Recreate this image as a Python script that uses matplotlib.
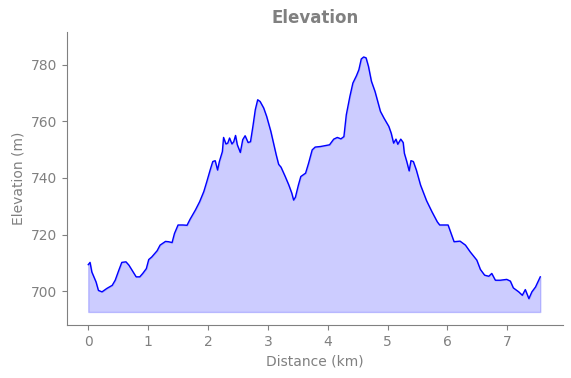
import matplotlib
matplotlib.use("Agg")
import matplotlib.pyplot as plt
import numpy as np

distance_km = [0.00, 0.03, 0.06, 0.13, 0.17, 0.23, 0.31, 0.40, 0.45, 0.51, 0.56, 0.63, 0.68, 0.75,
               0.80, 0.86, 0.91, 0.97, 1.01, 1.06, 1.15, 1.20, 1.29, 1.34, 1.40, 1.44, 1.50, 1.58,
               1.65, 1.70, 1.79, 1.86, 1.93, 1.98, 2.04, 2.08, 2.12, 2.16, 2.19, 2.24, 2.26, 2.30,
               2.33, 2.36, 2.40, 2.43, 2.46, 2.49, 2.54, 2.58, 2.62, 2.67, 2.71, 2.75, 2.79, 2.83,
               2.87, 2.93, 2.98, 3.05, 3.10, 3.14, 3.18, 3.22, 3.29, 3.35, 3.40, 3.43, 3.46, 3.51,
               3.55, 3.63, 3.68, 3.74, 3.79, 3.88, 3.93, 4.03, 4.10, 4.16, 4.22, 4.27, 4.31, 4.37,
               4.42, 4.48, 4.52, 4.56, 4.60, 4.64, 4.68, 4.73, 4.79, 4.88, 4.94, 5.02, 5.06, 5.10,
               5.14, 5.17, 5.22, 5.26, 5.28, 5.32, 5.36, 5.39, 5.43, 5.48, 5.55, 5.65, 5.74, 5.83,
               5.87, 6.01, 6.06, 6.11, 6.21, 6.30, 6.38, 6.49, 6.55, 6.62, 6.69, 6.74, 6.80, 6.88,
               6.99, 7.05, 7.10, 7.19, 7.25, 7.30, 7.36, 7.41, 7.47, 7.55]
elevation_m = [709.4, 710.2, 706.8, 703.3, 700.3, 699.8, 701.0, 702.1, 703.9, 707.4, 710.2, 710.4, 709.2, 706.8,
               705.1, 705.1, 706.3, 708.0, 711.2, 712.1, 714.3, 716.3, 717.6, 717.5, 717.2, 720.4, 723.4, 723.4,
               723.3, 725.4, 728.7, 731.6, 735.2, 738.7, 743.1, 745.8, 746.1, 742.8, 745.8, 749.3, 754.3, 752.0,
               752.3, 754.1, 752.0, 752.8, 755.0, 751.7, 749.0, 753.5, 754.9, 752.5, 752.8, 758.2, 764.1, 767.6,
               767.0, 764.7, 761.7, 756.4, 751.7, 748.1, 744.8, 743.8, 740.5, 737.5, 734.6, 732.2, 733.2, 737.5,
               740.5, 741.7, 745.2, 749.9, 750.9, 751.1, 751.3, 751.7, 753.7, 754.3, 753.8, 754.6, 762.3, 768.8,
               773.5, 776.1, 778.2, 782.0, 782.7, 782.4, 779.4, 774.1, 770.5, 763.5, 761.1, 758.2, 755.8, 752.3,
               753.7, 751.9, 753.7, 752.5, 748.7, 745.8, 742.5, 746.1, 745.8, 742.8, 737.5, 732.0, 728.1, 724.5,
               723.4, 723.4, 720.4, 717.5, 717.7, 716.3, 713.9, 711.0, 707.7, 705.7, 705.3, 706.3, 703.9, 703.9,
               704.2, 703.6, 701.2, 699.8, 698.6, 700.6, 697.4, 699.8, 701.5, 705.1]

title = "Elevation"
xlabel = "Distance (km)"
ylabel = "Elevation (m)"

fig = plt.figure(figsize=(5.71, 3.78), dpi=100)
ax = fig.add_axes([0.1168, 0.1402, 0.8687, 0.7743])

x = np.array(distance_km)
y = np.array(elevation_m)
base = y.min() - 4.7
ax.plot(x, y, color="blue", linewidth=1.0)
ax.fill_between(x, y, base, color="blue", alpha=0.2)
ax.set_ylim(y.min() - 9.3, y.max() + 8.7)
ax.set_xlim(-0.36, 7.925)

ax.set_title(title, fontsize=12, fontweight="bold", color="gray", pad=7)
ax.set_xlabel(xlabel, color="gray")
ax.set_ylabel(ylabel, color="gray")
ax.set_yticks([700, 720, 740, 760, 780])
ax.set_xticks(range(8))
ax.spines["top"].set_visible(False)
ax.spines["right"].set_visible(False)
for s in ["left", "bottom"]:
    ax.spines[s].set_color("gray")
ax.tick_params(colors="gray", labelcolor="gray")

fig.savefig("out.png", dpi=100)
